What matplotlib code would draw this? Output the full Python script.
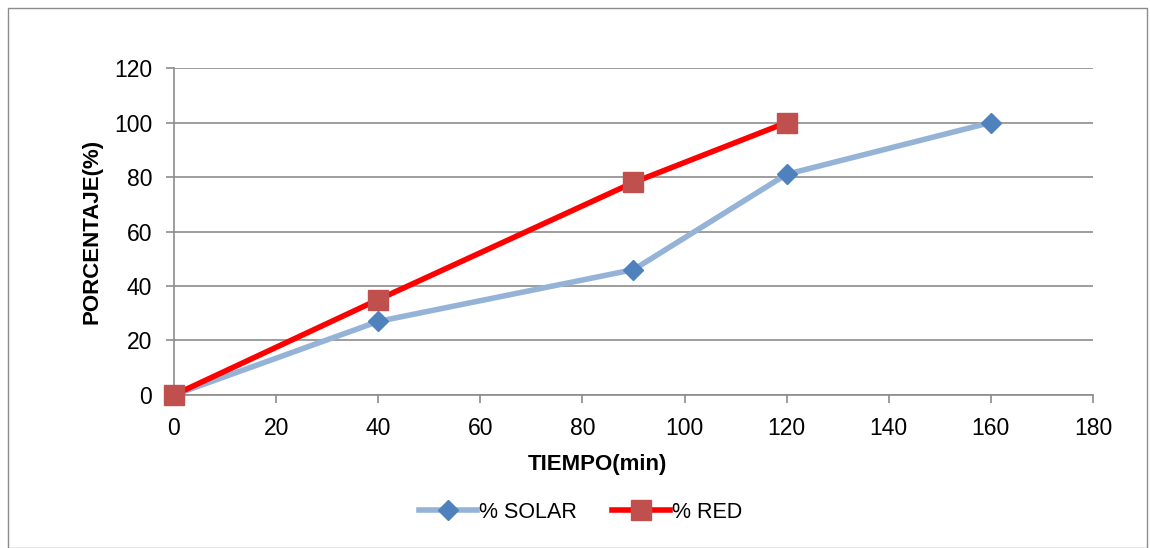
import matplotlib
matplotlib.use("Agg")
import matplotlib.pyplot as plt
from matplotlib.patches import Rectangle

plt.rcParams['font.family'] = ['Liberation Sans', 'DejaVu Sans']

solar_x = [0, 40, 90, 120, 160]
solar_y = [0, 27, 46, 81, 100]
red_x = [0, 40, 90, 120]
red_y = [0, 35, 78, 100]
x_ticks = [0, 20, 40, 60, 80, 100, 120, 140, 160, 180]
y_ticks = [0, 20, 40, 60, 80, 100, 120]

fig = plt.figure(figsize=(11.5, 5.48), dpi=100)
fig.patches.append(Rectangle((0.007, 0.0), 0.99, 0.985, transform=fig.transFigure,
                             fill=False, edgecolor='#8c8c8c', linewidth=1.0))
ax = fig.add_axes([0.1513, 0.2792, 0.7991, 0.5967])

ax.plot(solar_x, solar_y, color='#95b3d7', linewidth=4, marker='D', markersize=10.5,
        markerfacecolor='#4f81bd', markeredgecolor='#4f81bd', label='% SOLAR',
        zorder=3, clip_on=False)
ax.plot(red_x, red_y, color='#ff0000', linewidth=4, marker='s', markersize=14,
        markerfacecolor='#c0504d', markeredgecolor='#c0504d', label='% RED',
        zorder=4, clip_on=False)

ax.set_xlim(0, 180)
ax.set_ylim(0, 120)
ax.set_xticks(x_ticks)
ax.set_yticks(y_ticks)
ax.grid(axis='y', color='#8c8c8c', linewidth=1.2)
ax.set_axisbelow(True)
for s in ['top', 'right']:
    ax.spines[s].set_visible(False)
for s in ['left', 'bottom']:
    ax.spines[s].set_color('#8c8c8c')
    ax.spines[s].set_linewidth(1.2)
ax.tick_params(axis='both', colors='#8c8c8c', length=5.8, width=1.2, labelsize=16.5,
               labelcolor='black', pad=10)
ax.set_xlabel('TIEMPO(min)', fontsize=16, fontweight='bold')
ax.xaxis.set_label_coords(0.461, -0.212, transform=ax.transAxes)
ax.xaxis.label.set_verticalalignment('center')
ax.set_ylabel('PORCENTAJE(%)', fontsize=16, fontweight='bold', labelpad=8)

fig.legend(loc='center', bbox_to_anchor=(0.505, 0.065), ncol=2, frameon=False,
           fontsize=15.5, handlelength=2.7, columnspacing=1.6, handletextpad=0.1)

fig.savefig('out.png', dpi=100)
